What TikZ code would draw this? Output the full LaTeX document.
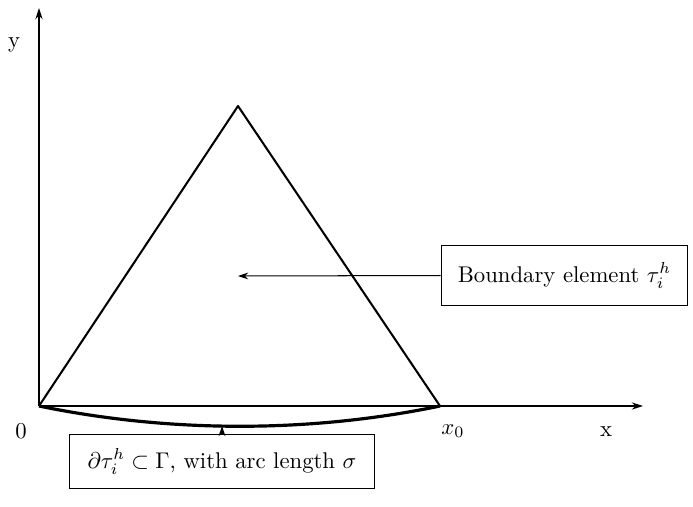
\documentclass[tikz,border=0pt]{standalone}
\usepackage{amsmath,amssymb}
\usepackage{tikz}
\usetikzlibrary{arrows.meta,positioning,calc}

\begin{document}
\begin{tikzpicture}[x=0.44pt,y=-0.44pt,
    axis/.style={line width=0.45pt,-{Stealth[length=5pt,width=3.2pt]}},
    edge/.style={line width=0.9pt},
    lbl/.style={draw,line width=0.45pt,inner sep=2pt},
    ptr/.style={line width=0.45pt,-{Stealth[length=4.5pt,width=3pt]}}]
  \useasboundingbox (0,0) rectangle (693,506);
  % axes
  \coordinate (O) at (39,406);
  \coordinate (xend) at (643,406);
  \coordinate (yend) at (39,8);
  \draw[axis] (O) -- (xend);
  \draw[axis] (O) -- (yend);
  \node (ylab) at (14,45) {y};
  \node (xlab) at (606,432) {x};
  \node (zero) at (21,431) {0};
  \node (xzero) at (453,431) {$x_0$};
  % boundary element
  \coordinate (A) at (238,106);
  \coordinate (B) at (440,406);
  \draw[edge,line join=round] (O) -- (A) -- (B);
  \draw[line width=1.4pt] (O) .. controls (170,433) and (310,433) .. (B);
  \coordinate (M) at (222,426);
  \coordinate (C) at (238,276);
  % labels
  \node[lbl,minimum width=108.6pt,minimum height=26.2pt] (elem) at (564.5,275.5) {Boundary element $\tau_i^h$};
  \node[lbl,minimum width=133.8pt,minimum height=23.4pt] (arc) at (222,461.5) {$\partial\tau_i^h\subset\Gamma$, with arc length $\sigma$};
  \draw[ptr] (elem.west) -- (C);
  \draw[ptr] (arc.north) -- (M);
\end{tikzpicture}
\end{document}
